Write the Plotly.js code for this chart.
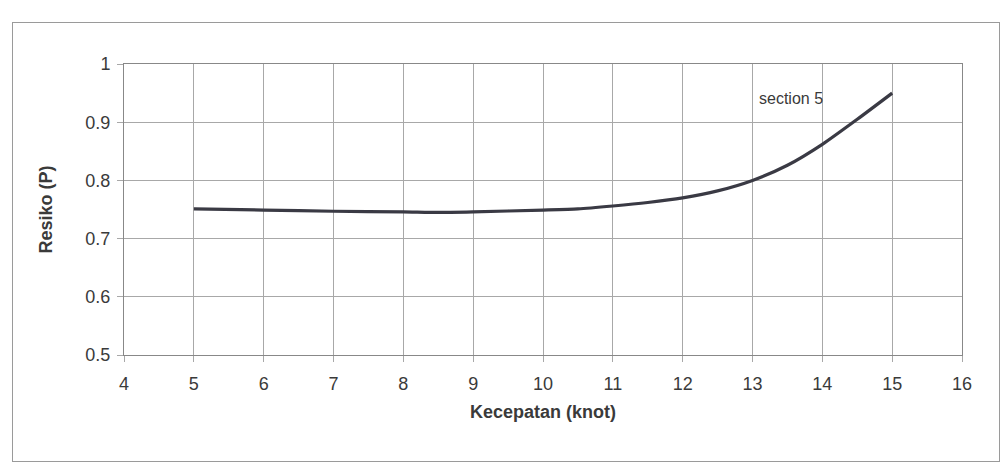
<!DOCTYPE html>
<html>
<head>
<meta charset="utf-8">
<script src="https://cdn.plot.ly/plotly-3.0.1.min.js"></script>
<style>
  html, body { margin: 0; padding: 0; background: #fff; }
  #frame { position: absolute; left: 12px; top: 22px; width: 988px; height: 440px; border: 1px solid #9a9a9a; box-sizing: border-box; }
  #chart { position: absolute; left: 0; top: 0; width: 1001px; height: 476px; }
</style>
</head>
<body>
<div id="frame"></div>
<div id="chart"></div>
<script>
// Data
const speedKnot = [5, 6, 7, 8, 8.5, 9, 10, 10.5, 11, 11.5, 12, 12.5, 13, 13.5, 14, 14.5, 15];
const riskP     = [0.751, 0.749, 0.747, 0.746, 0.745, 0.746, 0.749, 0.751, 0.756, 0.762, 0.770, 0.782, 0.800, 0.826, 0.862, 0.905, 0.950];
const seriesLabel = "section 5";
const xTicks = [4, 5, 6, 7, 8, 9, 10, 11, 12, 13, 14, 15, 16];
const yTicks = [0.5, 0.6, 0.7, 0.8, 0.9, 1];

const font = "Liberation Sans, Arial, sans-serif";

Plotly.newPlot("chart", [{
  x: speedKnot,
  y: riskP,
  type: "scatter",
  mode: "lines",
  line: { color: "#3a3a44", width: 3.2, shape: "spline", smoothing: 0.6 },
  name: seriesLabel,
  showlegend: false
}], {
  width: 1001,
  height: 476,
  margin: { l: 124, r: 39, t: 64, b: 121 },
  paper_bgcolor: "rgba(0,0,0,0)",
  plot_bgcolor: "rgba(0,0,0,0)",
  font: { family: font, color: "#3a3a3a" },
  xaxis: {
    range: [4, 16],
    tickvals: xTicks,
    ticktext: xTicks.map(String),
    showgrid: true,
    gridcolor: "#a8a8a8",
    gridwidth: 1,
    zeroline: false,
    showline: true,
    linecolor: "#888",
    mirror: true,
    ticks: "outside",
    ticklen: 6,
    tickcolor: "#a8a8a8",
    ticklabelstandoff: 6,
    tickfont: { size: 18, family: font, color: "#3a3a3a" },
    title: { text: "<b>Kecepatan (knot)</b>", font: { size: 18, family: font, color: "#3a3a3a" }, standoff: 12 }
  },
  yaxis: {
    range: [0.5, 1],
    tickvals: yTicks,
    ticktext: yTicks.map(String),
    showgrid: true,
    gridcolor: "#a8a8a8",
    gridwidth: 1,
    zeroline: false,
    showline: true,
    linecolor: "#888",
    mirror: true,
    ticks: "outside",
    ticklen: 6,
    tickcolor: "#a8a8a8",
    ticklabelstandoff: 3,
    tickfont: { size: 18, family: font, color: "#3a3a3a" },
    title: { text: "<b>Resiko (P)</b>", font: { size: 18, family: font, color: "#3a3a3a" }, standoff: 28 }
  },
  annotations: [{
    x: 13.55, y: 0.94, xref: "x", yref: "y",
    text: seriesLabel,
    showarrow: false,
    xanchor: "center",
    font: { size: 16, family: font, color: "#3a3a3a" }
  }]
}, { displayModeBar: false, staticPlot: true });
</script>
</body>
</html>
